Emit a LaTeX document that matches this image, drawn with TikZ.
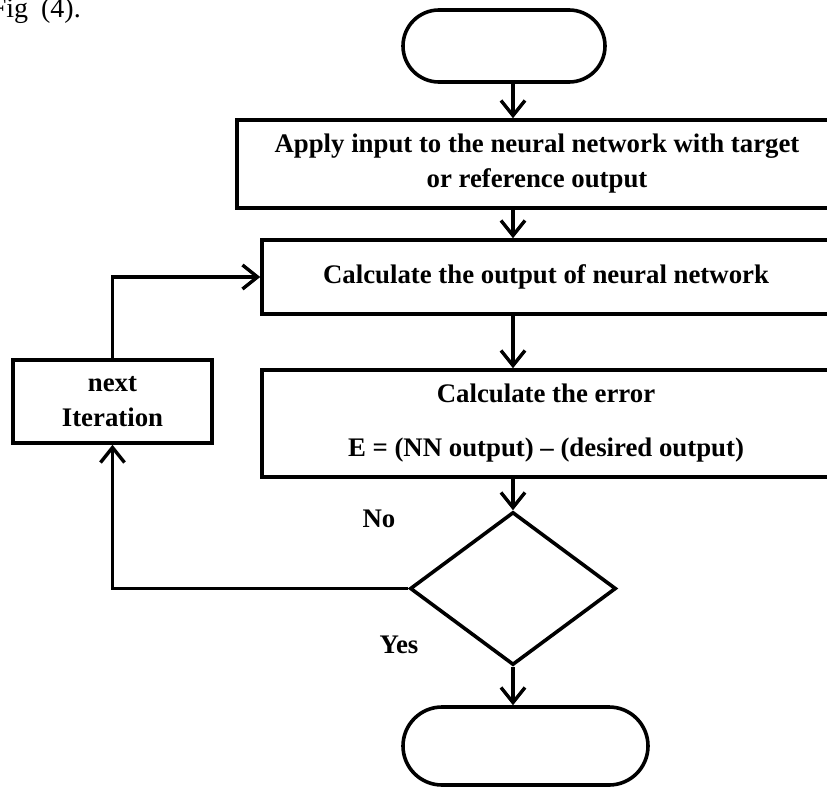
\documentclass[tikz,border=0pt]{standalone}
\usepackage{fontspec}
\setmainfont{Liberation Serif}
\usetikzlibrary{arrows.meta,shapes.geometric}
\begin{document}
\begin{tikzpicture}[x=1pt,y=-1pt,
  box/.style={draw,line width=3.6pt,align=center,inner sep=0pt,font=\bfseries\fontsize{26.8}{35}\selectfont},
  term/.style={draw,line width=3.6pt,rectangle,rounded corners=#1,inner sep=0pt},
  conn/.style={line width=3.4pt,-{Straight Barb[length=15pt,width=24pt]}},
  lbl/.style={font=\bfseries\fontsize{26.8}{35}\selectfont,inner sep=0pt}]
\useasboundingbox (0,0) rectangle (827,787);
\clip (0,0) rectangle (827,787);
\node[term=36pt, minimum width=202pt, minimum height=72pt] (start) at (504,46) {};
\node[box, minimum width=600pt, minimum height=88pt] (apply) at (537,164) {Apply input to the neural network with target\\or reference output};
\node[box, minimum width=568pt, minimum height=74pt] (calc) at (546,277) {Calculate the output of neural network};
\node[box, minimum width=568pt, minimum height=107pt] (err) at (546,423.5) {Calculate the error\\[19pt]E = (NN output) – (desired output)};
\node[draw, diamond, line width=3.6pt, minimum width=206pt, minimum height=153pt, inner sep=0pt] (dec) at (513,588.5) {};
\node[term=39pt, minimum width=245pt, minimum height=78pt] (stop) at (525.5,746) {};
\node[box, minimum width=199pt, minimum height=83pt] (next) at (112.5,401.5) {next\\Iteration};
\node[lbl] (no) at (379,519) {No};
\node[lbl] (yes) at (399,645) {Yes};
\node[font=\fontsize{28}{32}\selectfont, inner sep=0pt, anchor=base east] (fig) at (81,17) {Fig\hspace{13pt}(4).};
\draw[conn] (start.south -| dec.north) -- (apply.north -| dec.north);
\draw[conn] (apply.south -| dec.north) -- (calc.north -| dec.north);
\draw[conn] (calc.south -| dec.north) -- (err.north -| dec.north);
\draw[conn] (err.south -| dec.north) -- (dec.north);
\draw[conn] (dec.south) -- (stop.north -| dec.south);
\draw[conn] (dec.west) -| (next.south);
\draw[conn] (next.north) |- (calc.west);
\end{tikzpicture}
\end{document}
